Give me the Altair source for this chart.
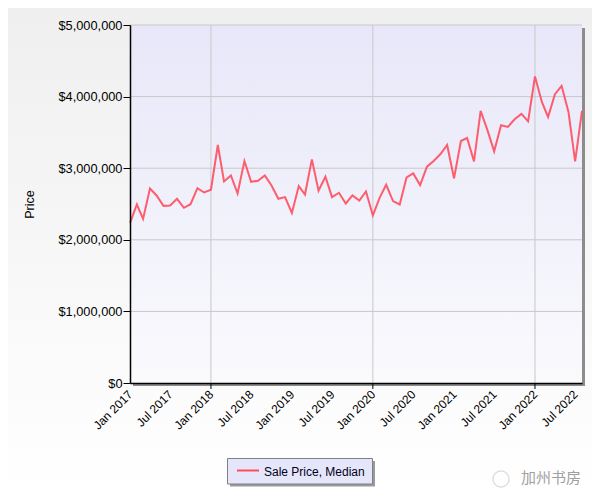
import altair as alt
import pandas as pd

# ---- data ----
months = [f"{y}-{m:02d}-01" for y in range(2017, 2023) for m in range(1, 13)][:68]
prices = [
    2237000, 2493000, 2292000, 2717000, 2619000, 2474000, 2479000, 2573000, 2447000, 2497000, 2721000, 2661000,
    2699000, 3324000, 2815000, 2899000, 2647000, 3100000, 2810000, 2824000, 2899000, 2759000, 2573000, 2596000,
    2376000, 2750000, 2633000, 3123000, 2685000, 2881000, 2596000, 2657000, 2507000, 2619000, 2549000, 2675000,
    2340000, 2590000, 2769000, 2540000, 2493000, 2871000, 2927000, 2764000, 3021000, 3100000, 3198000, 3324000,
    2857000, 3380000, 3422000, 3095000, 3800000, 3529000, 3235000, 3600000, 3576000, 3683000, 3758000, 3655000,
    4281000, 3926000, 3716000, 4034000, 4150000, 3786000, 3095000, 3800000,
]
series_name = "Sale Price, Median"
y_tick_values = [0, 1000000, 2000000, 3000000, 4000000, 5000000]
x_label_months = [(y, m) for y in range(2017, 2023) for m in (1, 7)]
x_grid_dates = ["2018-01-01", "2020-01-01", "2022-01-01"]
watermark = "加州书房"

W, H = 452, 358
LINE_COLOR = "#ff4d5e"
FONT = "Liberation Sans"

df = pd.DataFrame({"date": months, "price": prices, "series": series_name})
one = alt.Data(values=[{"k": 1}])

x_scale = alt.Scale(
    type="utc",
    domain=[alt.DateTime(year=2017, month=1, date=1, utc=True),
            alt.DateTime(year=2022, month=8, date=1, utc=True)],
)
y_scale = alt.Scale(domain=[0, 5000000], nice=False)

x_axis = alt.Axis(
    title=None,
    values=[alt.DateTime(year=y, month=m, date=1, utc=True) for y, m in x_label_months],
    labelExpr="utcFormat(datum.value, '%b %Y')",
    labelAngle=315,
    labelAlign="right",
    labelBaseline="middle",
    labelPadding=9,
    labelFont=FONT,
    labelFontSize=12,
    labelColor="#000000",
    ticks=False,
    grid=False,
    domainColor="#000000",
    domainWidth=1.5,
    zindex=1,
    labelOverlap=False,
)
y_axis = alt.Axis(
    title="Price",
    values=y_tick_values,
    format="$,.0f",
    tickSize=7,
    tickColor="#000000",
    domainColor="#000000",
    domainWidth=1.5,
    labelFont=FONT,
    labelFontSize=12.8,
    labelColor="#000000",
    labelPadding=1,
    grid=False,
    titleFont=FONT,
    titleFontSize=12.5,
    titleFontWeight="normal",
    titleColor="#000000",
    titleX=-94,
    titleY=179,
    zindex=1,
)

def grad(c1, c2):
    return alt.Gradient(
        gradient="linear",
        stops=[alt.GradientStop(color=c1, offset=0), alt.GradientStop(color=c2, offset=1)],
        x1=0, x2=0, y1=0, y2=1,
    )

page_bg = alt.Chart(one).mark_rect(fill=grad("#efefef", "#ffffff")).encode(
    x=alt.value(-122), x2=alt.value(462), y=alt.value(-17), y2=alt.value(470)
)
plot_shadow = alt.Chart(one).mark_rect(fill="#8c8c8c").encode(
    x=alt.value(3), x2=alt.value(455), y=alt.value(3), y2=alt.value(361)
)
plot_bg = alt.Chart(one).mark_rect(fill=grad("#e7e7f9", "#fafafd")).encode(
    x=alt.value(0), x2=alt.value(W), y=alt.value(0), y2=alt.value(H)
)

ygrid_df = pd.DataFrame({"v": y_tick_values[1:]})
ygrid = alt.Chart(ygrid_df).mark_rule(color="#c8c8c8", strokeWidth=1).encode(
    y=alt.Y("v:Q", scale=y_scale, axis=y_axis)
)
xgrid_df = pd.DataFrame({"d": x_grid_dates})
xgrid = alt.Chart(xgrid_df).mark_rule(color="#c8c8c8", strokeWidth=1).encode(
    x=alt.X("d:T", scale=x_scale, axis=x_axis)
)
xticks = alt.Chart(xgrid_df).mark_rule(color="#000000", strokeWidth=1).encode(
    x=alt.X("d:T", scale=x_scale, axis=x_axis), y=alt.value(H), y2=alt.value(H + 6)
)

line = alt.Chart(df).mark_line(color=LINE_COLOR, strokeWidth=2, opacity=0.9).encode(
    x=alt.X("date:T", scale=x_scale, axis=x_axis),
    y=alt.Y("price:Q", scale=y_scale, axis=y_axis),
)

leg_df = pd.DataFrame({"series": [series_name]})
leg_shadow = alt.Chart(leg_df).mark_rect(fill="#9a9a9a").encode(
    x=alt.value(100), x2=alt.value(245), y=alt.value(436), y2=alt.value(461.5)
)
leg_box = alt.Chart(leg_df).mark_rect(fill="#e6e6fa", stroke="#808080", strokeWidth=1).encode(
    x=alt.value(97.5), x2=alt.value(242.5), y=alt.value(433.5), y2=alt.value(459)
)
leg_sym = alt.Chart(leg_df).mark_rule(color=LINE_COLOR, strokeWidth=2).encode(
    x=alt.value(107), x2=alt.value(129), y=alt.value(445.5)
)
leg_txt = alt.Chart(leg_df).mark_text(
    align="left", baseline="middle", font=FONT, fontSize=12, color="#000020"
).encode(x=alt.value(134), y=alt.value(446.5), text="series:N")

wm_df = pd.DataFrame({"t": [watermark]})
wm = alt.Chart(wm_df).mark_text(
    align="left", baseline="middle", font="Noto Sans CJK SC", fontSize=15, color="#a0a0a0"
).encode(x=alt.value(391), y=alt.value(453), text="t:N")
wm_icon = alt.Chart(wm_df).mark_point(shape="circle", size=260, color="#c8c8c8", strokeWidth=1.2).encode(
    x=alt.value(371), y=alt.value(454)
)

chart = alt.layer(
    page_bg, plot_shadow, plot_bg, ygrid, xgrid, xticks, line,
    leg_shadow, leg_box, leg_sym, leg_txt, wm_icon, wm,
).properties(
    width=W,
    height=H,
    autosize="none",
    padding={"left": 122, "top": 17, "right": 10, "bottom": 110},
).configure_view(strokeWidth=0)

chart.save("out.html", embed_options={"renderer": "svg", "actions": False})
